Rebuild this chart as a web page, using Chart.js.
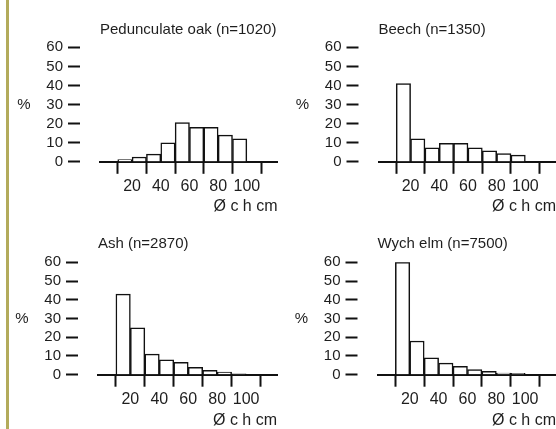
<!DOCTYPE html>
<html><head><meta charset="utf-8">
<script src="https://cdn.jsdelivr.net/npm/chart.js@4.4.1/dist/chart.umd.min.js"></script>
<style>
html,body{margin:0;padding:0;background:#fff;}
body{width:556px;height:429px;position:relative;overflow:hidden;}
canvas{position:absolute;}
#rule{position:absolute;left:6px;top:0;width:3px;height:429px;background:#b3ab5b;}
</style></head><body>
<canvas id="c1" width="290" height="215" style="left:0;top:0"></canvas>
<canvas id="c2" width="278" height="215" style="left:278px;top:0"></canvas>
<canvas id="c3" width="290" height="214" style="left:0;top:215px"></canvas>
<canvas id="c4" width="278" height="214" style="left:278px;top:215px"></canvas>
<div id="rule"></div>
<script>
// diameter classes (class midpoints, cm) and axis ticks
const binMidpoints = [15, 25, 35, 45, 55, 65, 75, 85, 95];
const xTickValues = [20, 40, 60, 80, 100];
const yMin = 0, yMax = 60, yStep = 10;
const xLabel = 'Ø c h cm';
const yLabel = '%';

// percentage of trees per diameter class
const oakPct   = [1.2, 2.5, 4, 10, 20.5, 18, 18, 14, 12];
const beechPct = [41, 12, 7.3, 9.7, 9.7, 7.3, 5.7, 4.3, 3.5];
const ashPct   = [43, 25, 11, 8, 6.6, 4, 2.3, 1.4, 0.5];
const elmPct   = [60, 18, 9, 6.2, 4.5, 2.7, 1.8, 0.9, 0.7];

const titles = ['Pedunculate oak (n=1020)', 'Beech (n=1350)', 'Ash (n=2870)', 'Wych elm (n=7500)'];

const FONT = "'Liberation Sans', Arial, Helvetica, sans-serif";
const TXT = '#1e1e1e';
const INK = '#111';

const pctPlugin = {
  id: 'pctLabel',
  afterDraw(chart) {
    const ctx = chart.ctx;
    const ys = chart.scales.y;
    ctx.save();
    ctx.font = '15px ' + FONT;
    ctx.fillStyle = TXT;
    ctx.textAlign = 'center';
    ctx.textBaseline = 'middle';
    ctx.fillText(yLabel, chart.chartArea.left - 76, ys.getPixelForValue(30));
    ctx.restore();
  }
};

function makePanel(id, title, values, p) {
  new Chart(document.getElementById(id), {
    type: 'bar',
    data: {
      datasets: [{
        data: binMidpoints.map((x, i) => ({x: x, y: values[i]})),
        backgroundColor: '#ffffff',
        borderColor: INK,
        borderWidth: 1.5,
        barPercentage: 1,
        categoryPercentage: 1
      }]
    },
    options: {
      responsive: false,
      animation: false,
      devicePixelRatio: 1,
      layout: {padding: {left: p.padLeft, right: p.padRight, top: 0, bottom: 0}},
      plugins: {
        legend: {display: false},
        tooltip: {enabled: false},
        title: {
          display: true, text: title, align: 'start', fullSize: false,
          color: TXT, font: {family: FONT, size: 15, weight: 'normal', lineHeight: 1.2},
          padding: {top: p.titleTop, bottom: p.titleBottom}
        }
      },
      scales: {
        x: {
          type: 'linear', min: 10, max: 109, z: 1,
          afterBuildTicks(s) { s.ticks = xTickValues.map(v => ({value: v})); },
          afterFit(s) { s.height = p.xHeight; },
          border: {display: true, color: INK, width: 2},
          grid: {display: true, drawOnChartArea: false, drawTicks: true, tickLength: 12, tickColor: INK, tickWidth: 2},
          ticks: {color: TXT, font: {family: FONT, size: 16}, padding: 3, maxRotation: 0, autoSkip: false},
          title: {display: true, text: xLabel, align: 'end', color: TXT,
                  font: {family: FONT, size: 16, lineHeight: 1}, padding: {top: 0, bottom: p.xTitleBottom}}
        },
        y: {
          min: yMin, max: yMax,
          afterFit(s) { s.width = 60; },
          border: {display: false},
          grid: {display: true, drawOnChartArea: false, drawTicks: true, tickLength: 32,
                 tickColor: INK, tickWidth: 2, tickBorderDash: [12, 24]},
          ticks: {stepSize: yStep, autoSkip: false, color: TXT, font: {family: FONT, size: 15}, padding: 5}
        }
      }
    },
    plugins: [pctPlugin]
  });
}

makePanel('c1', titles[0], oakPct,   {padLeft: 40,   padRight: 12.5, titleTop: 21, titleBottom: 8.3,  xHeight: 53.2, xTitleBottom: 0});
makePanel('c2', titles[1], beechPct, {padLeft: 40.5, padRight: 0,    titleTop: 21, titleBottom: 8.3,  xHeight: 53.2, xTitleBottom: 0});
makePanel('c3', titles[2], ashPct,   {padLeft: 38,   padRight: 13,   titleTop: 20, titleBottom: 9.3, xHeight: 54.3, xTitleBottom: 0.5});
makePanel('c4', titles[3], elmPct,   {padLeft: 39.5, padRight: 0,    titleTop: 20, titleBottom: 9.3, xHeight: 54.3, xTitleBottom: 0.5});
</script>
</body></html>
